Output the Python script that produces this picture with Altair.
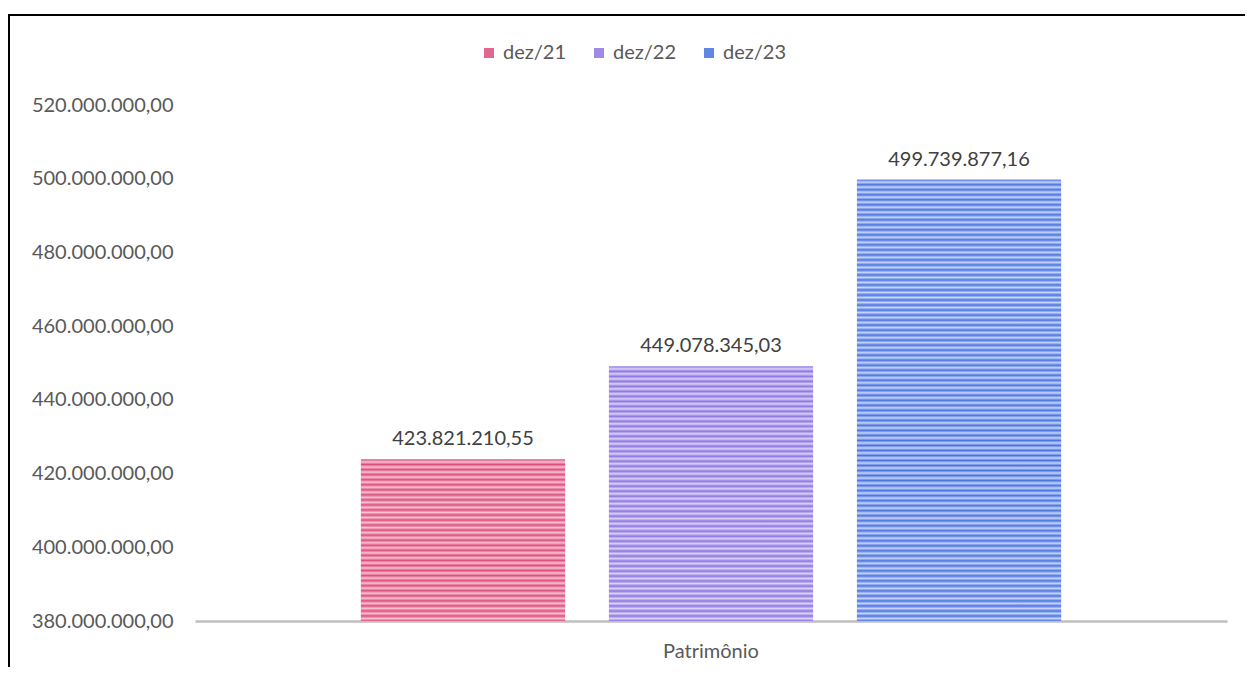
import altair as alt
import pandas as pd

# ---- data ----
categorias = ["Patrimônio", "Patrimônio", "Patrimônio"]
series = ["dez/21", "dez/22", "dez/23"]
valores = [423821210.55, 449078345.03, 499739877.16]
ticks_y = [380000000, 400000000, 420000000, 440000000, 460000000, 480000000, 500000000, 520000000]

# ---- style ----
FONT = "Lato"
FS = 20
cores_escuras = ["#DD4F7C", "#8D76E0", "#4A74E2"]
cores_claras = ["#F6C2D3", "#DAD1F7", "#C6D4F6"]
cores_legenda = ["#E2668E", "#9F8AE6", "#6087E6"]
Y_MIN, Y_MAX = ticks_y[0], ticks_y[-1]
W, H = 1032, 516

df = pd.DataFrame({"categoria": categorias, "serie": series, "valor": valores})

br_expr = ("replace(replace(replace(format({v}, ',.2f'), regexp(',', 'g'), '_'), "
           "regexp('[.]', 'g'), ','), regexp('_', 'g'), '.')")

x_enc = alt.X(
    "categoria:N",
    scale=alt.Scale(paddingOuter=0.237, paddingInner=0),
    axis=alt.Axis(title=None, labelAngle=0, labelFontSize=FS, labelColor="#595959",
                  labelFont=FONT, labelPadding=20, ticks=False,
                  domainColor="#BFBFBF", domainWidth=2.5),
)
xoff = alt.XOffset("serie:N", sort=series,
                   scale=alt.Scale(paddingInner=0.177, paddingOuter=0))
y_enc = alt.Y(
    "valor:Q",
    scale=alt.Scale(domain=[Y_MIN, Y_MAX], nice=False, zero=False),
    axis=alt.Axis(title=None, values=ticks_y, grid=False, domain=False, ticks=False,
                  labelFontSize=FS, labelColor="#595959", labelFont=FONT,
                  labelPadding=22, labelExpr=br_expr.format(v="datum.value")),
)

base = alt.Chart(df)
one = base.transform_filter(alt.datum.serie == series[0])

frame_left = one.mark_rule(color="#000000", strokeWidth=2).encode(
    x=alt.value(-186), y=alt.value(-90), y2=alt.value(620)
)
frame_top = one.mark_rule(color="#000000", strokeWidth=2).encode(
    x=alt.value(-187), x2=alt.value(1300), y=alt.value(-90)
)

legend_bars = base.mark_bar().encode(
    x=x_enc, xOffset=xoff, y=y_enc, y2=alt.datum(Y_MIN),
    color=alt.Color("serie:N", sort=series,
                    scale=alt.Scale(domain=series, range=cores_legenda),
                    legend=alt.Legend(title=None, orient="none", direction="horizontal",
                                      legendX=284, legendY=-62,
                                      labelFontSize=FS, labelFont=FONT,
                                      labelColor="#595959", symbolType="square",
                                      symbolSize=100, symbolStrokeWidth=0,
                                      labelOffset=4, columnPadding=22)),
)

layers = [frame_left, frame_top, legend_bars]
for s, v, dark, light in zip(series, valores, cores_escuras, cores_claras):
    h = (v - Y_MIN) / (Y_MAX - Y_MIN) * H
    n = max(1, round(h / 5))
    stops = []
    for i in range(n):
        stops += [alt.GradientStop(offset=i / n, color=dark),
                  alt.GradientStop(offset=(i + 0.5) / n, color=light)]
    stops.append(alt.GradientStop(offset=1, color=dark))
    grad = alt.LinearGradient(gradient="linear", x1=0, x2=0, y1=0, y2=1, stops=stops)
    layers.append(
        base.transform_filter(alt.datum.serie == s).mark_bar(color=grad).encode(
            x=x_enc, xOffset=xoff, y=y_enc, y2=alt.datum(Y_MIN)
        )
    )

labels = base.transform_calculate(
    rotulo=br_expr.format(v="datum.valor")
).mark_text(dy=-20, fontSize=FS, font=FONT, color="#404040", baseline="middle").encode(
    x=x_enc, xOffset=xoff, y=y_enc, text="rotulo:N"
)
layers.append(labels)

chart = alt.layer(*layers).properties(
    width=W, height=H,
    autosize=alt.AutoSizeParams(type="none"),
    padding={"left": 187, "top": 97, "right": 18, "bottom": 46},
    background="white",
).configure_view(stroke=None, strokeWidth=0)

chart.save("out.html", embed_options={"renderer": "svg", "actions": False})
